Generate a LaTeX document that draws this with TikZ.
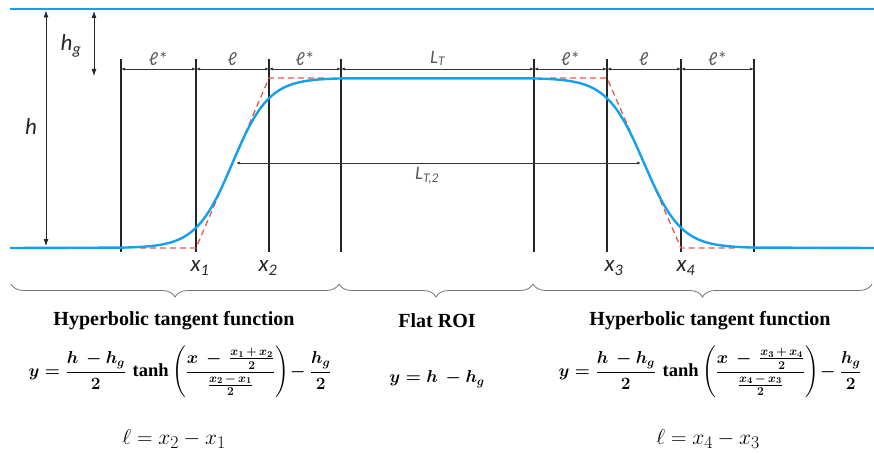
\documentclass[tikz,border=0pt]{standalone}
\usepackage{amsmath}
\usepackage{fontspec}
\setmainfont{Liberation Serif}
\newfontfamily\labfont{Carlito}
\usetikzlibrary{arrows.meta,decorations.pathreplacing}
\definecolor{cblue}{RGB}{20,160,235}
\definecolor{cred}{RGB}{235,85,75}
\newcommand\inpl{\mskip3mu+\mskip3mu}
\newcommand\inmi{\mskip3mu-\mskip3mu}
\begin{document}
\begin{tikzpicture}[x=1pt,y=-1pt,
  vline/.style={line width=1.6pt, black!85},
  dimline/.style={line width=0.7pt, black!80, {Latex[length=4pt,width=3pt]}-{Latex[length=4pt,width=3pt]}},
  harr/.style={line width=0.8pt, black!85, {Latex[length=7pt,width=5pt]}-{Latex[length=7pt,width=5pt]}},
  bluecurve/.style={cblue, line width=2.4pt},
  ramp/.style={cred, line width=1.3pt, dash pattern=on 6pt off 4pt},
  xlab/.style={font=\labfont\itshape\fontsize{23}{25}\selectfont, text=black!85, inner sep=0pt},
  seglab/.style={font=\labfont\fontsize{19}{21}\selectfont, text=black!65, inner sep=1pt},
  bracestyle/.style={decorate, decoration={brace, amplitude=13pt, mirror}, draw=black!55, line width=0.8pt},
  titlelab/.style={font=\bfseries\fontsize{20}{23}\selectfont},
  eqlab/.style={font=\fontsize{18.5}{22}\selectfont\mathversion{bold}},
  elllab/.style={font=\fontsize{24.88}{28}\selectfont, scale=0.86}
]
\useasboundingbox (0,0) rectangle (874,454);
% top water line
\coordinate (tl) at (10,9);
\coordinate (tr) at (874,9);
\draw[bluecurve] (tl) -- (tr);
% verticals
\foreach \i/\x in {1/121,2/196,3/269,4/341,5/534,6/607,7/681,8/754} {
  \coordinate (t\i) at (\x,59);
  \coordinate (b\i) at (\x,252);
  \coordinate (d\i) at (\x,69);
}
\foreach \i in {1,...,8} \draw[vline] (t\i) -- (b\i);
% dimension arrows
\draw[dimline] (d1) -- node[seglab, above=2pt] {ℓ*} (d2);
\draw[dimline] (d2) -- node[seglab, above=2pt] {ℓ} (d3);
\draw[dimline] (d3) -- node[seglab, above=2pt] {ℓ*} (d4);
\draw[dimline] (d4) -- node[seglab, above=2pt] {\itshape L\textsubscript{T}} (d5);
\draw[dimline] (d5) -- node[seglab, above=2pt] {ℓ*} (d6);
\draw[dimline] (d6) -- node[seglab, above=2pt] {ℓ} (d7);
\draw[dimline] (d7) -- node[seglab, above=2pt] {ℓ*} (d8);
% red linear ramps
\draw[ramp] (140,248) -- (196,248) -- (269,78) -- (325,78);
\draw[ramp] (550,78) -- (607,78) -- (681,248) -- (735,248);
% bed profile
\draw[bluecurve] (10,248) -- plot[domain=121:341,samples=90] (\x,{163+85*tanh((232.5-\x)/36.5)})
  -- plot[domain=534:754,samples=90] (\x,{163+85*tanh((\x-644)/37)}) -- (874,248);
% h and hg arrows
\coordinate (ha) at (46,10.5);
\coordinate (hb) at (46,246);
\draw[harr] (ha) -- (hb);
\coordinate (ga) at (94,11);
\coordinate (gb) at (94,76);
\draw[harr] (ga) -- (gb);
\node[xlab] (hlab) at (31,127) {h};
\node[xlab] (hglab) at (71,46) {h\textsubscript{g}};
% LT2
\coordinate (la) at (236,163);
\coordinate (lb) at (641,163);
\draw[dimline] (la) -- (lb);
\node[seglab, font=\labfont\itshape\fontsize{19}{21}\selectfont] (lt2) at (427,176) {L\textsubscript{T,2}};
% x labels
\node[xlab] (x1) at (200,268) {x\textsubscript{1}};
\node[xlab] (x2) at (268,268) {x\textsubscript{2}};
\node[xlab] (x3) at (614,268) {x\textsubscript{3}};
\node[xlab] (x4) at (686,268) {x\textsubscript{4}};
% braces
\coordinate (r0) at (11,284);
\coordinate (r1) at (339,284);
\coordinate (r2) at (533,284);
\coordinate (r3) at (872,284);
\draw[bracestyle] (r0) -- (r1);
\draw[bracestyle] (r1) -- (r2);
\draw[bracestyle] (r2) -- (r3);
% titles
\node[titlelab] (tA) at (174,321) {Hyperbolic tangent function};
\node[titlelab] (tB) at (437,321) {Flat ROI};
\node[titlelab] (tC) at (710,321) {Hyperbolic tangent function};
% equations
\node[eqlab] (eA) at (180,372) {$\displaystyle y=\frac{h\,-h_g}{2}\,\tanh\left(\frac{x\,-\,\frac{x_1\inpl x_2}{2}}{\frac{x_2\inmi x_1}{2}}\right)\!-\frac{h_g}{2}$};
\node[eqlab] (eB) at (437,379) {$y=h\,-h_g$};
\node[eqlab] (eC) at (710,372) {$\displaystyle y=\frac{h\,-h_g}{2}\,\tanh\left(\frac{x\,-\,\frac{x_3\inpl x_4}{2}}{\frac{x_4\inmi x_3}{2}}\right)\!-\frac{h_g}{2}$};
\node[elllab] (lA) at (174,439) {$\ell=x_2-x_1$};
\node[elllab] (lC) at (708,439) {$\ell=x_4-x_3$};
\end{tikzpicture}
\end{document}
